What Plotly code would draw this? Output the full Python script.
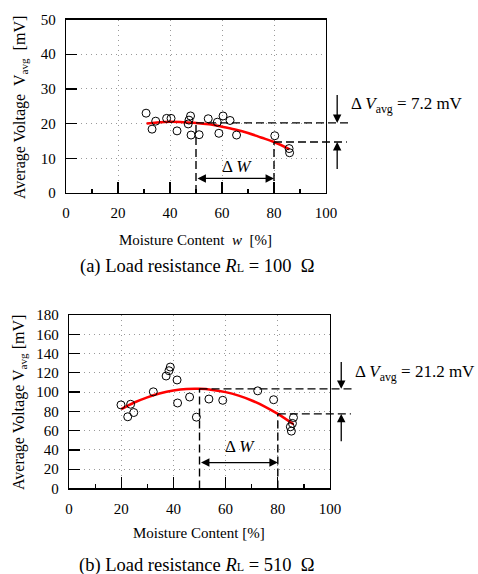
import plotly.graph_objects as go

# ---------------- data ----------------
# (a) Load resistance R_L = 100 ohm
w_a = [30.8, 33.1, 34.5, 38.7, 40.4, 42.7, 47.0, 47.3, 47.9, 48.1, 51.2, 54.7,
       58.2, 58.8, 60.4, 63.1, 65.6, 80.3, 85.8, 86.0]
v_a = [23.0, 18.4, 20.7, 21.5, 21.5, 17.9, 19.9, 21.0, 22.2, 16.7, 16.8, 21.4,
       20.4, 17.2, 22.2, 20.9, 16.7, 16.5, 12.8, 11.6]
fit_w_a = [31, 35, 40, 45, 50, 55, 60, 65, 70, 75, 80, 86]
fit_v_a = [20.0, 20.3, 20.5, 20.4, 20.2, 19.8, 19.1, 18.3, 17.3, 16.0, 14.7, 12.6]

# (b) Load resistance R_L = 510 ohm
w_b = [19.9, 22.5, 23.6, 24.8, 32.3, 37.2, 38.3, 38.8, 41.4, 41.6, 46.2, 48.8,
       53.6, 58.9, 72.3, 78.4, 86.0, 85.6, 84.8, 85.2]
v_b = [86.7, 74.4, 87.4, 78.8, 100.3, 116.7, 122.2, 126.0, 112.6, 88.7, 94.9, 74.0,
       92.8, 91.5, 101.3, 92.1, 73.6, 67.5, 64.0, 59.5]
fit_w_b = [20, 25, 30, 35, 40, 45, 50, 55, 60, 65, 70, 75, 80, 86]
fit_v_b = [82.4, 89.2, 94.6, 98.8, 101.6, 103.2, 103.4, 102.3, 100.0, 96.3, 91.3, 85.0, 77.4, 66.6]

dW_range = [50, 80]            # moisture band of the delta-W arrow
dV_label_a = "7.2 mV"
dV_label_b = "21.2 mV"
x_range = [0, 100]
y_range_a = [0, 50]
y_range_b = [0, 180]

SERIF = "Liberation Serif, Times New Roman, serif"

fig = go.Figure()

def fit_at(ws, vs, w):
    return vs[ws.index(w)]

# scatter + fit
fig.add_trace(go.Scatter(x=fit_w_a, y=fit_v_a, mode="lines", line=dict(color="#ff0000", width=2.5, shape="spline"),
                         xaxis="x", yaxis="y", showlegend=False, hoverinfo="skip"))
fig.add_trace(go.Scatter(x=w_a, y=v_a, mode="markers",
                         marker=dict(symbol="circle-open", size=8, color="black", line=dict(width=1)),
                         xaxis="x", yaxis="y", showlegend=False, cliponaxis=False))
fig.add_trace(go.Scatter(x=fit_w_b, y=fit_v_b, mode="lines", line=dict(color="#ff0000", width=2.5, shape="spline"),
                         xaxis="x2", yaxis="y2", showlegend=False, hoverinfo="skip"))
fig.add_trace(go.Scatter(x=w_b, y=v_b, mode="markers",
                         marker=dict(symbol="circle-open", size=8, color="black", line=dict(width=1)),
                         xaxis="x2", yaxis="y2", showlegend=False, cliponaxis=False))

axis_common = dict(
    showline=True, mirror=True, linecolor="black", linewidth=1.3,
    ticks="inside", ticklen=11, tickwidth=1.3, tickcolor="black",
    showgrid=True, gridcolor="#9a9a9a", gridwidth=1, griddash="1px,4px",
    zeroline=False, tickfont=dict(family=SERIF, size=15, color="black"),
    ticklabelstandoff=6, automargin=False,
)
xaxis_common = dict(axis_common, range=x_range, dtick=20, tick0=0,
                    minor=dict(dtick=10, ticks="inside", ticklen=4, tickwidth=1.2, tickcolor="black", showgrid=False))

fig.update_layout(
    width=478, height=574,
    margin=dict(l=0, r=0, t=0, b=0, pad=0, autoexpand=False),
    paper_bgcolor="white", plot_bgcolor="white",
    showlegend=False,
    xaxis=dict(xaxis_common, domain=[0.1381, 0.6820], anchor="y"),
    yaxis=dict(axis_common, domain=[0.6638, 0.9660], range=y_range_a, dtick=10, anchor="x"),
    xaxis2=dict(xaxis_common, domain=[0.1444, 0.6904], anchor="y2"),
    yaxis2=dict(axis_common, domain=[0.1490, 0.4512], range=y_range_b, dtick=20, anchor="x2"),
)

shapes = []
annotations = []
DASH = "8px,4px"

def add_panel(xa, ya, ws, vs, y_range, dv_label, dv_text_y, dw_y, dw_text_y, arrow_tail_up, arrow_tail_down):
    xr = x_range
    dom = lambda w: (w - xr[0]) / (xr[1] - xr[0])
    v_hi = fit_at(ws, vs, dW_range[0])
    v_lo = fit_at(ws, vs, dW_range[1])
    # vertical dashed lines
    for w, v in [(dW_range[0], v_hi), (dW_range[1], v_lo)]:
        shapes.append(dict(type="line", xref=xa, yref=ya, x0=w, x1=w, y0=y_range[0], y1=v,
                           line=dict(color="black", width=1.4, dash=DASH), layer="above"))
    # horizontal dashed lines extending beyond the frame
    shapes.append(dict(type="line", xref=xa + " domain", yref=ya, x0=dom(dW_range[0]), x1=dom(108.5),
                       y0=v_hi, y1=v_hi, line=dict(color="black", width=1.4, dash=DASH)))
    shapes.append(dict(type="line", xref=xa + " domain", yref=ya, x0=dom(dW_range[1]), x1=dom(108.0),
                       y0=v_lo, y1=v_lo, line=dict(color="black", width=1.4, dash=DASH)))
    # delta V arrows
    annotations.append(dict(xref=xa + " domain", yref=ya, x=dom(104.3), y=v_hi, ax=0, ay=arrow_tail_down,
                            ayref=ya, axref="pixel", text="", showarrow=True, arrowhead=2, arrowsize=1.3,
                            arrowwidth=1.3, arrowcolor="black", standoff=0))
    annotations.append(dict(xref=xa + " domain", yref=ya, x=dom(104.3), y=v_lo, ax=0, ay=arrow_tail_up,
                            ayref=ya, axref="pixel", text="", showarrow=True, arrowhead=2, arrowsize=1.3,
                            arrowwidth=1.3, arrowcolor="black", standoff=0))
    annotations.append(dict(xref=xa + " domain", yref=ya, x=dom(108.8), y=dv_text_y, xanchor="left", yanchor="middle",
                            text="Δ <i>V</i><sub>avg</sub> = " + dv_label, showarrow=False,
                            font=dict(family=SERIF, size=17, color="black")))
    # delta W double arrow
    annotations.append(dict(xref=xa, yref=ya, x=dW_range[1], y=dw_y, ax=dW_range[0], ay=dw_y,
                            axref=xa, ayref=ya, text="", showarrow=True, arrowhead=2, startarrowhead=2,
                            arrowside="end+start", arrowsize=1.3, startarrowsize=1.3,
                            arrowwidth=1.3, arrowcolor="black", standoff=0, startstandoff=0))
    annotations.append(dict(xref=xa, yref=ya, x=65.6, y=dw_text_y, text="Δ <i>W</i>", showarrow=False,
                            xanchor="center", yanchor="middle",
                            font=dict(family=SERIF, size=17, color="black")))

add_panel("x", "y", fit_w_a, fit_v_a, y_range_a, dV_label_a, 25.3, 4.2, 7.6, 6.5, 28.7)
add_panel("x2", "y2", fit_w_b, fit_v_b, y_range_b, dV_label_b, 119.8, 26.9, 43.5, 47.4, 132.8)

# axis titles and captions
def ptext(x, y, text, size, angle=0):
    annotations.append(dict(xref="paper", yref="paper", x=x, y=y, text=text, showarrow=False,
                            xanchor="center", yanchor="middle", textangle=angle,
                            font=dict(family=SERIF, size=size, color="black")))

ptext(0.042, 0.8118, "Average Voltage  V<sub>avg</sub>  [mV]", 16, -90)
ptext(0.042, 0.298, "Average Voltage V<sub>avg</sub> [mV]", 16, -90)
ptext(0.41, 0.5819, "Moisture Content  <i>w</i>  [%]", 15)
ptext(0.416, 0.0714, "Moisture Content [%]", 15)
ptext(0.413, 0.5354, "(a) Load resistance <i>R</i><span style='font-size:12px'>L</span> = 100  Ω", 18.5)
ptext(0.413, 0.0150, "(b) Load resistance <i>R</i><span style='font-size:12px'>L</span> = 510  Ω", 18.5)

fig.update_layout(shapes=shapes, annotations=annotations)
fig.write_html("out.html", config={"displayModeBar": False, "staticPlot": True},
               post_script="document.body.style.margin='0';document.body.style.overflow='hidden';")
